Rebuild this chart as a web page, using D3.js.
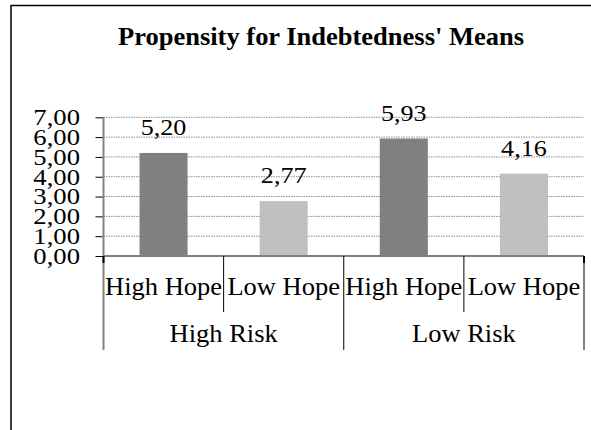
<!DOCTYPE html>
<html>
<head>
<meta charset="utf-8">
<script src="https://cdn.jsdelivr.net/npm/d3@7"></script>
<style>
  html, body { margin: 0; padding: 0; background: #fff; }
  svg { display: block; }
  text { font-family: "Liberation Serif", "Times New Roman", serif; fill: #000; }
</style>
</head>
<body>
<svg id="chart" width="591" height="430"></svg>
<script>
const title = "Propensity for Indebtedness' Means";
const groups = ["High Risk", "Low Risk"];
const subgroups = ["High Hope", "Low Hope"];
const values = [5.20, 2.77, 5.93, 4.16];
const yTicks = [0, 1, 2, 3, 4, 5, 6, 7];
const barColors = ["#808080", "#c0c0c0"];

(function () {
const rows = [];
groups.forEach((g, gi) => subgroups.forEach((s, si) => {
  rows.push({ key: g + "|" + s, group: g, sub: s, si: si, value: values[gi * subgroups.length + si] });
}));

const svg = d3.select("#chart");
const pLeft = 103.5, pRight = 584, pTop = 117.3, pBottom = 256;
const fmt = v => d3.format(".2f")(v).replace(".", ",");

const x = d3.scaleBand().domain(rows.map(d => d.key)).range([pLeft, pRight]).paddingInner(0.6).paddingOuter(0.3);
const xCell = d3.scaleBand().domain(rows.map(d => d.key)).range([pLeft, pRight]).padding(0);
const y = d3.scaleLinear().domain([0, 7]).range([pBottom, pTop]);

// outer chart border (left + top)
svg.append("path").attr("d", "M11,430V5.5H591").attr("fill", "none").attr("stroke", "#000").attr("stroke-width", 1.5);

// title
svg.append("text").attr("transform", "translate(321,45) scale(1.06,1)")
  .attr("text-anchor", "middle").attr("font-weight", "bold").attr("font-size", 25).text(title);

// gridlines
svg.append("g").selectAll("line").data(yTicks.filter(t => t > 0)).join("line")
  .attr("x1", pLeft).attr("x2", pRight).attr("y1", d => y(d)).attr("y2", d => y(d))
  .attr("stroke", "#8c8c8c").attr("stroke-width", 1).attr("stroke-dasharray", "1.5,1");

// y axis
const yAxis = d3.axisLeft(y).tickValues(yTicks).tickSize(8).tickFormat("");
const ga = svg.append("g").attr("transform", `translate(${pLeft},0)`).call(yAxis);
ga.select(".domain").remove();
ga.selectAll(".tick line").attr("stroke", "#000").attr("stroke-width", 1);
svg.append("line").attr("x1", pLeft).attr("x2", pLeft).attr("y1", pTop).attr("y2", 350)
  .attr("stroke", "#808080").attr("stroke-width", 2);

// y tick labels
svg.append("g").selectAll("text").data(yTicks).join("text")
  .attr("transform", d => `translate(80,${y(d) + 7.8}) scale(1.16,1)`)
  .attr("text-anchor", "end").attr("font-size", 23).text(d => fmt(d));

// bars
svg.append("g").selectAll("rect").data(rows).join("rect")
  .attr("x", d => x(d.key)).attr("width", x.bandwidth())
  .attr("y", d => y(d.value)).attr("height", d => y(0) - y(d.value))
  .attr("fill", d => barColors[d.si]);

// data labels
svg.append("g").selectAll("text").data(rows).join("text")
  .attr("transform", d => `translate(${x(d.key) + x.bandwidth() / 2},${y(d.value) - 17.7}) scale(1.16,1)`)
  .attr("text-anchor", "middle").attr("font-size", 22.5).text(d => fmt(d.value));

// baseline
svg.append("line").attr("x1", pLeft).attr("x2", pRight).attr("y1", y(0)).attr("y2", y(0))
  .attr("stroke", "#808080").attr("stroke-width", 2);

// category dividers (inner level)
svg.append("g").selectAll("line").data(rows.filter(d => d.si > 0)).join("line")
  .attr("x1", d => xCell(d.key)).attr("x2", d => xCell(d.key))
  .attr("y1", y(0)).attr("y2", 312).attr("stroke", "#000").attr("stroke-width", 1);

// group dividers
const groupEdges = groups.map(g => xCell(g + "|" + subgroups[0])).concat([pRight]);
svg.append("g").selectAll("line").data(groupEdges.slice(1)).join("line")
  .attr("x1", d => d).attr("x2", d => d).attr("y1", y(0)).attr("y2", 350)
  .attr("stroke", (d, i) => i === groupEdges.length - 2 ? "#808080" : "#000")
  .attr("stroke-width", (d, i) => i === groupEdges.length - 2 ? 2 : 1);
// small black ticks at outer ends
svg.append("g").selectAll("line").data([pLeft, pRight]).join("line")
  .attr("x1", d => d).attr("x2", d => d).attr("y1", y(0)).attr("y2", y(0) + 7)
  .attr("stroke", "#000").attr("stroke-width", 2);

// sub-category labels
svg.append("g").selectAll("text").data(rows).join("text")
  .attr("transform", d => `translate(${xCell(d.key) + xCell.bandwidth() / 2},295) scale(1.06,1)`)
  .attr("text-anchor", "middle").attr("font-size", 25).text(d => d.sub);

// group labels
svg.append("g").selectAll("text").data(groups).join("text")
  .attr("transform", (g, i) => `translate(${(groupEdges[i] + groupEdges[i + 1]) / 2},342) scale(1.06,1)`)
  .attr("text-anchor", "middle").attr("font-size", 25).text(g => g);
})();
</script>
</body>
</html>
